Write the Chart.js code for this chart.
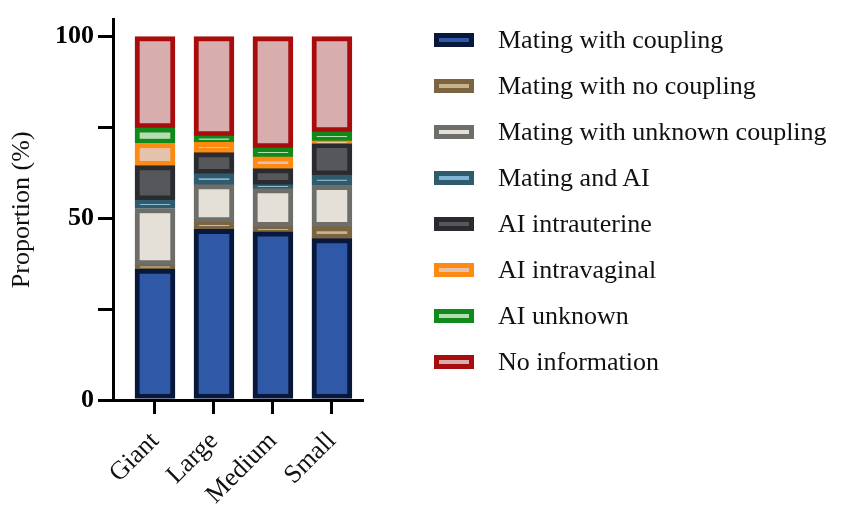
<!DOCTYPE html>
<html>
<head>
<meta charset="utf-8">
<script src="https://cdn.jsdelivr.net/npm/chart.js@4/dist/chart.umd.min.js"></script>
<style>
  body { margin: 0; background: #fff; }
  #wrap { position: relative; width: 844px; height: 508px; }
  #legend { position: absolute; left: 434px; top: 17px; font-family: "Liberation Serif", serif; font-size: 26px; color: #111; }
  .item { height: 46px; display: flex; align-items: center; }
  .swatch { width: 30px; height: 4px; border: 5px solid; margin-right: 24px; }
</style>
</head>
<body>
<div id="wrap">
  <canvas id="chart" width="844" height="508"></canvas>
  <div id="legend"></div>
</div>
<script>
// Categories and series (bottom to top of each stack), values in %
const categories = ["Giant", "Large", "Medium", "Small"];
const seriesNames = ["Mating with coupling", "Mating with no coupling", "Mating with unknown coupling",
    "Mating and AI", "AI intrauterine", "AI intravaginal", "AI unknown", "No information"];
const matingCoupling   = [36.0, 47.0, 46.3, 44.4];
const matingNoCoupling = [1.2, 2.0, 1.4, 3.3];
const matingUnknown    = [15.5, 10.3, 10.5, 11.4];
const matingAndAI      = [2.3, 3.0, 1.1, 2.8];
const aiIntrauterine   = [9.5, 5.8, 4.4, 8.7];
const aiIntravaginal   = [6.1, 2.8, 3.2, 0.7];
const aiUnknown        = [4.3, 1.8, 2.5, 2.5];
const noInformation    = [25.1, 27.3, 30.6, 26.2];
const yTicks = [0, 50, 100];

const seriesValues = [matingCoupling, matingNoCoupling, matingUnknown, matingAndAI,
    aiIntrauterine, aiIntravaginal, aiUnknown, noInformation];
const fills   = ["#2f58a6", "#c8b288", "#e4e0d8", "#7fb4d4", "#55575b", "#e4c3ae", "#b6dcb1", "#d8adad"];
const borders = ["#08183a", "#7a6441", "#6d6d6a", "#2f5b6c", "#2a2b2e", "#ff8a12", "#108a1b", "#a80c0c"];

const serif = "'Liberation Serif', 'Times New Roman', serif";

let datasets = seriesValues.map((vals, i) => ({
    label: seriesNames[i],
    data: vals.map((v, j) => ({x: j, y: v})),
    backgroundColor: fills[i],
    borderColor: borders[i],
    borderWidth: 5,
    borderSkipped: false,
    barThickness: 40
}));

let chart = new Chart(document.getElementById("chart"), {
    type: "bar",
    data: { datasets: datasets },
    options: {
        responsive: false,
        animation: false,
        layout: { padding: { top: 14, right: 482, left: 0, bottom: 0 } },
        plugins: { legend: { display: false }, tooltip: { enabled: false } },
        scales: {
            x: {
                type: "linear",
                stacked: true,
                offset: false,
                min: -0.712,
                max: 3.51,
                bounds: "data",
                afterBuildTicks: (scale) => { scale.ticks = categories.map((c, i) => ({value: i})); },
                afterFit: (scale) => { scale.height = 108; },
                ticks: {
                    autoSkip: false,
                    minRotation: 45,
                    maxRotation: 45,
                    padding: 12,
                    color: "#111",
                    font: { family: serif, size: 26 },
                    callback: (v) => categories[v]
                },
                grid: { offset: false, drawOnChartArea: false, tickLength: 14, tickColor: "#000", tickWidth: 3, lineWidth: 3 },
                border: { display: true, color: "#000", width: 3 }
            },
            y: {
                stacked: true,
                min: 0,
                max: 104.7,
                bounds: "data",
                afterFit: (scale) => { scale.width = 113; },
                ticks: {
                    stepSize: 25,
                    includeBounds: false,
                    padding: 4,
                    color: "#000",
                    font: { family: serif, size: 26, weight: "bold" },
                    callback: (v) => yTicks.includes(v) ? v : ""
                },
                grid: { drawOnChartArea: false, tickLength: 15, tickColor: "#000", tickWidth: 3, lineWidth: 3 },
                border: { display: true, color: "#000", width: 3 },
                title: {
                    display: true,
                    text: "Proportion (%)",
                    color: "#111",
                    padding: { top: 7, bottom: 0 },
                    font: { family: serif, size: 26 }
                }
            }
        }
    }
});

// Legend built from the datasets
let legendElement = document.querySelector("#legend");
for (let ds of chart.data.datasets) {
    let item = document.createElement("div");
    item.className = "item";
    item.innerHTML = `<span class="swatch" style="background:${ds.backgroundColor};border-color:${ds.borderColor}"></span><span>${ds.label}</span>`;
    legendElement.appendChild(item);
}
</script>
</body>
</html>
